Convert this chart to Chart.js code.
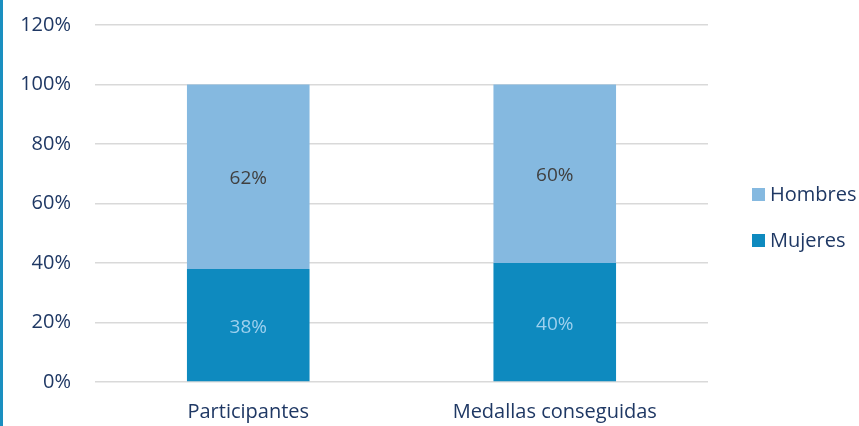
<!DOCTYPE html>
<html>
<head>
<meta charset="utf-8">
<script src="https://cdn.jsdelivr.net/npm/chart.js@4.4.0/dist/chart.umd.min.js"></script>
<style>
  html, body { margin: 0; padding: 0; background: #fff; }
  #wrap { width: 856px; height: 426px; border-left: 3px solid #1A8FC0; }
</style>
</head>
<body>
<div id="wrap"><canvas id="chart" width="856" height="426"></canvas></div>
<script>
const categories = ["Participantes", "Medallas conseguidas"];
const mujeres = [38, 40];
const hombres = [62, 60];
const yTicks = [0, 20, 40, 60, 80, 100, 120];

const textColor = "#1F3864";
const fontFamily = "'Open Sans', 'Liberation Sans', sans-serif";

// Etiquetas dentro de las barras
const barLabels = {
  id: "barLabels",
  afterDatasetsDraw(chart) {
    const ctx = chart.ctx;
    chart.data.datasets.forEach((ds, i) => {
      const meta = chart.getDatasetMeta(i);
      meta.data.forEach((bar, j) => {
        const y = (bar.y + bar.base) / 2;
        ctx.save();
        ctx.fillStyle = ds.labelColor;
        ctx.font = "19px " + fontFamily;
        ctx.textAlign = "center";
        ctx.textBaseline = "middle";
        ctx.fillText(ds.data[j] + "%", bar.x, y + 2);
        ctx.restore();
      });
    });
  },
};

// Leyenda a la derecha (Hombres arriba, Mujeres abajo)
const sideLegend = {
  id: "sideLegend",
  afterDraw(chart) {
    const ctx = chart.ctx;
    const area = chart.chartArea;
    const x = area.right + 44;
    const items = chart.data.datasets.slice().reverse();
    items.forEach((ds, i) => {
      const cy = area.top + 170 + i * 46;
      ctx.save();
      ctx.fillStyle = ds.backgroundColor;
      ctx.fillRect(x, cy - 7, 13, 13);
      ctx.fillStyle = textColor;
      ctx.font = "20px " + fontFamily;
      ctx.textAlign = "left";
      ctx.textBaseline = "middle";
      ctx.fillText(ds.label, x + 18, cy);
      ctx.restore();
    });
  },
};

new Chart(document.getElementById("chart"), {
  type: "bar",
  data: {
    labels: categories,
    datasets: [
      {
        label: "Mujeres",
        data: mujeres,
        backgroundColor: "#0E8ABF",
        labelColor: "#9DD0EE",
        categoryPercentage: 0.8,
        barPercentage: 0.5,
      },
      {
        label: "Hombres",
        data: hombres,
        backgroundColor: "#85B9E0",
        labelColor: "#404040",
        categoryPercentage: 0.8,
        barPercentage: 0.5,
      },
    ],
  },
  options: {
    responsive: false,
    animation: false,
    layout: { padding: { left: 15, top: 0, right: 151, bottom: -8 } },
    scales: {
      x: {
        stacked: true,
        grid: { display: false },
        border: { display: false },
        ticks: { color: textColor, font: { size: 20, family: fontFamily }, padding: 10 },
      },
      y: {
        stacked: true,
        min: 0,
        max: 120,
        afterBuildTicks: (axis) => {
          axis.ticks = yTicks.map((v) => ({ value: v }));
        },
        afterFit: (axis) => {
          axis.width = 77;
          axis.paddingTop = 25;
        },
        grid: { color: "#D9D9D9", lineWidth: 1.5, drawTicks: false },
        border: { display: false },
        ticks: {
          color: textColor,
          font: { size: 20, family: fontFamily },
          padding: 24,
          callback: (v) => v + "%",
        },
      },
    },
    plugins: {
      legend: { display: false },
      tooltip: { enabled: false },
    },
  },
  plugins: [barLabels, sideLegend],
});
</script>
</body>
</html>
